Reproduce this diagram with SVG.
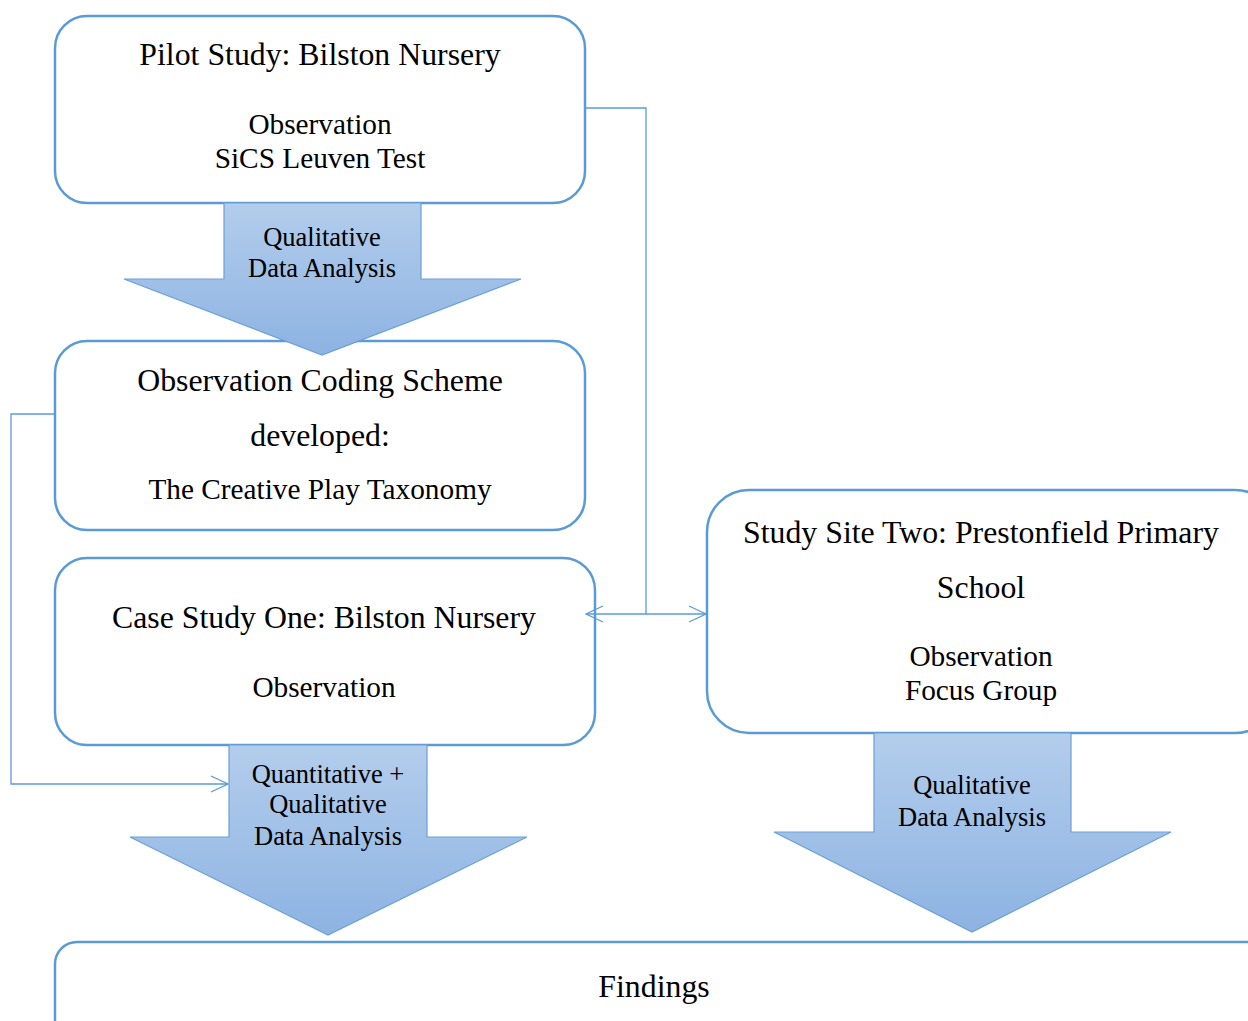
<svg xmlns="http://www.w3.org/2000/svg" width="1248" height="1021" viewBox="0 0 1248 1021">
<style>
.box{fill:#fff;stroke:#5b9bd5;stroke-width:2.5}
.arr{fill:url(#g);stroke:#6a9fd8;stroke-width:1.2}
.conn{fill:none;stroke:#5b9bd5;stroke-width:1.3}
.t{font-family:"Liberation Serif","Times New Roman",serif;fill:#000;text-anchor:middle}
.h{font-size:31.8px}
.b{font-size:29.3px}
.a{font-size:26.5px}
</style>
<defs>
<linearGradient id="g" x1="0" y1="0" x2="0" y2="1">
<stop offset="0" stop-color="#b3cdec"/>
<stop offset="1" stop-color="#8db3e2"/>
</linearGradient>
<marker id="m" viewBox="0 0 20 20" refX="19" refY="10" markerWidth="20" markerHeight="20" markerUnits="userSpaceOnUse" orient="auto-start-reverse">
<path d="M2,2 L19,10 L2,18" fill="none" stroke="#5b9bd5" stroke-width="1.3"/>
</marker>
</defs>
<g id="pilot">
<rect class="box" x="55" y="16" width="530" height="187" rx="32"/>
<text class="t h" x="320" y="65">Pilot Study: Bilston Nursery</text>
<text class="t b" x="320" y="134">Observation</text>
<text class="t b" x="320" y="168">SiCS Leuven Test</text>
</g>
<g id="coding">
<rect class="box" x="55" y="341" width="530" height="189" rx="32"/>
<text class="t h" x="320" y="391">Observation Coding Scheme</text>
<text class="t h" x="320" y="446">developed:</text>
<text class="t b" x="320" y="499">The Creative Play Taxonomy</text>
</g>
<g id="caseone">
<rect class="box" x="55" y="558" width="540" height="187" rx="32"/>
<text class="t h" x="324" y="628">Case Study One: Bilston Nursery</text>
<text class="t b" x="324" y="697">Observation</text>
</g>
<g id="sitetwo">
<rect class="box" x="707" y="490" width="570" height="243" rx="42"/>
<text class="t h" x="981" y="543">Study Site Two: Prestonfield Primary</text>
<text class="t h" x="981" y="598">School</text>
<text class="t b" x="981" y="666">Observation</text>
<text class="t b" x="981" y="700">Focus Group</text>
</g>
<g id="findings">
<rect class="box" x="55" y="942" width="1240" height="130" rx="22"/>
<text class="t h" x="654" y="997">Findings</text>
</g>
<g id="arrow1">
<path class="arr" d="M224,203 H421 V279 H521 L322,355 L124,279 H224 Z"/>
<text class="t a" x="322" y="246">Qualitative</text>
<text class="t a" x="322" y="277">Data Analysis</text>
</g>
<g id="arrow2">
<path class="arr" d="M229,745 H427 V837 H527 L328,935 L130,837 H229 Z"/>
<text class="t a" x="328" y="783">Quantitative +</text>
<text class="t a" x="328" y="813">Qualitative</text>
<text class="t a" x="328" y="845">Data Analysis</text>
</g>
<g id="arrow3">
<path class="arr" d="M874,733 H1071 V832 H1171 L972,932 L774,832 H874 Z"/>
<text class="t a" x="972" y="794">Qualitative</text>
<text class="t a" x="972" y="826">Data Analysis</text>
</g>
<g id="connectors">
<path class="conn" d="M586,108 H646 V614"/>
<path class="conn" d="M586,614 H706" marker-start="url(#m)" marker-end="url(#m)"/>
<path class="conn" d="M54,414 H11 V784 H228" marker-end="url(#m)"/>
</g>
</svg>
